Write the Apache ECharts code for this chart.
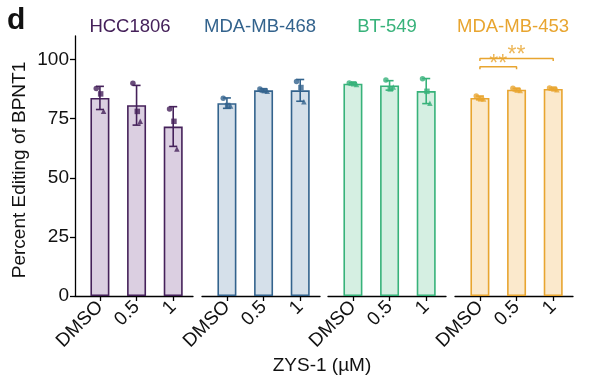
<!DOCTYPE html>
<html>
<head>
<meta charset="utf-8">
<script src="https://cdn.jsdelivr.net/npm/echarts@6/dist/echarts.min.js"></script>
<style>html,body{margin:0;padding:0;background:#fff}#c{width:589px;height:384px}</style>
</head>
<body>
<div id="c"></div>
<script>
// ---- data ----
const categories = ['DMSO', '0.5', '1'];
const cellLines = ['HCC1806', 'MDA-MB-468', 'BT-549', 'MDA-MB-453'];
const yTicks = [0, 25, 50, 75, 100];

const hcc1806Mean = [83.8, 80.7, 71.7];
const hcc1806SD = [4.9, 8.4, 8.4];
const hcc1806Points = [[87.8, 85.5, 78.2], [90.0, 78.1, 73.9], [79.1, 73.9, 62.2]];

const mda468Mean = [81.6, 87.0, 87.0];
const mda468SD = [2.2, 0.6, 4.6];
const mda468Points = [[83.7, 80.6, 80.4], [87.6, 86.9, 86.6], [90.8, 88.2, 82.2]];

const bt549Mean = [89.8, 89.1, 86.7];
const bt549SD = [0.4, 2.0, 5.3];
const bt549Points = [[90.1, 89.8, 89.5], [91.4, 87.6, 88.4], [91.9, 86.6, 81.6]];

const mda453Mean = [83.8, 87.3, 87.6];
const mda453SD = [0.8, 0.5, 0.4];
const mda453Points = [[84.6, 83.4, 83.3], [87.9, 87.1, 86.9], [88.0, 87.6, 87.3]];

// significance comparisons in MDA-MB-453 panel: [from index, to index, bracket height, label]
const sigBrackets = [[0, 1, 97.0, '**'], [0, 2, 100.5, '**']];

// ---- styling ----
const edgeColors = ['#45215a', '#33638d', '#37b27a', '#e8a530'];
const fillColors = ['#dbcfe1', '#d5e0ea', '#d5efe2', '#fbe9cc'];
const gridLefts = [75, 202, 328, 455];
const gridWidth = 118;
const font = 'Liberation Sans, Arial, sans-serif';

const means = [hcc1806Mean, mda468Mean, bt549Mean, mda453Mean];
const sds = [hcc1806SD, mda468SD, bt549SD, mda453SD];
const points = [hcc1806Points, mda468Points, bt549Points, mda453Points];

const shapes = ['circle', 'rect', 'triangle'];
const jitter = [-0.1, 0.02, 0.1];

const grids = [], xAxes = [], yAxes = [], series = [], graphics = [];
const titleCenters = [130, 260, 387, 513];

for (let p = 0; p < 4; p++) {
  grids.push({ left: gridLefts[p], width: gridWidth, top: 36, bottom: 88 });
  xAxes.push({
    type: 'value', gridIndex: p, min: -0.68, max: 2.54,
    splitLine: { show: false },
    axisLine: { show: true, onZero: false, lineStyle: { color: '#000', width: 1.3 } },
    axisTick: { show: true, customValues: [0, 1, 2], length: 5, lineStyle: { color: '#000', width: 1.3 } },
    axisLabel: {
      customValues: [0, 1, 2], rotate: 45, color: '#111', fontSize: 19, fontFamily: font, margin: 8,
      formatter: v => categories[Math.round(v)]
    }
  });
  yAxes.push({
    type: 'value', gridIndex: p, min: 0, max: 110,
    show: p === 0,
    splitLine: { show: false },
    axisLine: { show: true, onZero: false, lineStyle: { color: '#000', width: 1.3 } },
    axisTick: { show: true, customValues: yTicks, length: 5, lineStyle: { color: '#000', width: 1.3 } },
    axisLabel: { customValues: yTicks, color: '#111', fontSize: 19, fontFamily: font, margin: 6 }
  });
  graphics.push({
    type: 'text', x: titleCenters[p], y: 27,
    style: { text: cellLines[p], fill: edgeColors[p], fontSize: 18.5, fontFamily: font, align: 'center', verticalAlign: 'middle' }
  });

  // bars
  series.push({
    type: 'bar', xAxisIndex: p, yAxisIndex: p, barWidth: 19,
    data: means[p].map((m, i) => [i, m]),
    itemStyle: { color: fillColors[p], borderColor: edgeColors[p], borderWidth: 1.6 },
    silent: true, z: 2
  });
  // error bars
  series.push({
    type: 'custom', xAxisIndex: p, yAxisIndex: p, z: 4, silent: true,
    data: means[p].map((m, i) => [i, m - sds[p][i], m + sds[p][i]]),
    renderItem: (params, api) => {
      const lo = api.coord([api.value(0), api.value(1)]);
      const hi = api.coord([api.value(0), api.value(2)]);
      const hw = 4;
      const st = { stroke: edgeColors[p], lineWidth: 1.6 };
      return {
        type: 'group', children: [
          { type: 'line', shape: { x1: lo[0], y1: lo[1], x2: hi[0], y2: hi[1] }, style: st },
          { type: 'line', shape: { x1: hi[0] - hw, y1: hi[1], x2: hi[0] + hw, y2: hi[1] }, style: st },
          { type: 'line', shape: { x1: lo[0] - hw, y1: lo[1], x2: lo[0] + hw, y2: lo[1] }, style: st }
        ]
      };
    }
  });
  // replicate points
  const pts = [];
  points[p].forEach((reps, i) => reps.forEach((v, r) => {
    pts.push({ value: [i + jitter[r], v], symbol: shapes[r] });
  }));
  series.push({
    type: 'scatter', xAxisIndex: p, yAxisIndex: p, z: 5, silent: true,
    symbolSize: 5.5, data: pts, itemStyle: { color: edgeColors[p] }
  });
}

// significance brackets on the last panel
sigBrackets.forEach(([a, b, h, lab]) => {
  series.push({
    type: 'line', xAxisIndex: 3, yAxisIndex: 3, symbol: 'none', silent: true, z: 6,
    data: [[a, h - 1.1], [a, h], [b, h], [b, h - 1.1]],
    lineStyle: { color: edgeColors[3], width: 1.5 }
  });
  series.push({
    type: 'scatter', xAxisIndex: 3, yAxisIndex: 3, symbolSize: 0, silent: true, z: 6,
    data: [[(a + b) / 2, h]],
    label: {
      show: true, formatter: lab, position: 'top', distance: -9,
      color: edgeColors[3], fontSize: 23, fontFamily: font
    }
  });
});

graphics.push({ type: 'text', x: 7, y: 21, style: { text: 'd', fontSize: 30, fontWeight: 'bold', fill: '#111', fontFamily: font, verticalAlign: 'middle' } });
graphics.push({
  type: 'text', x: 20, y: 170, rotation: Math.PI / 2,
  style: { text: 'Percent Editing of BPNT1', fontSize: 19, fontFamily: font, fill: '#111', align: 'center', verticalAlign: 'middle' }
});
graphics.push({
  type: 'text', x: 322, y: 366,
  style: { text: 'ZYS-1 (µM)', fontSize: 19, fontFamily: font, fill: '#111', align: 'center', verticalAlign: 'middle' }
});

const chart = echarts.init(document.getElementById('c'), null, { renderer: 'canvas' });
chart.setOption({
  animation: false,
  backgroundColor: '#fff',
  grid: grids,
  xAxis: xAxes,
  yAxis: yAxes,
  series: series,
  graphic: graphics
});
</script>
</body>
</html>
